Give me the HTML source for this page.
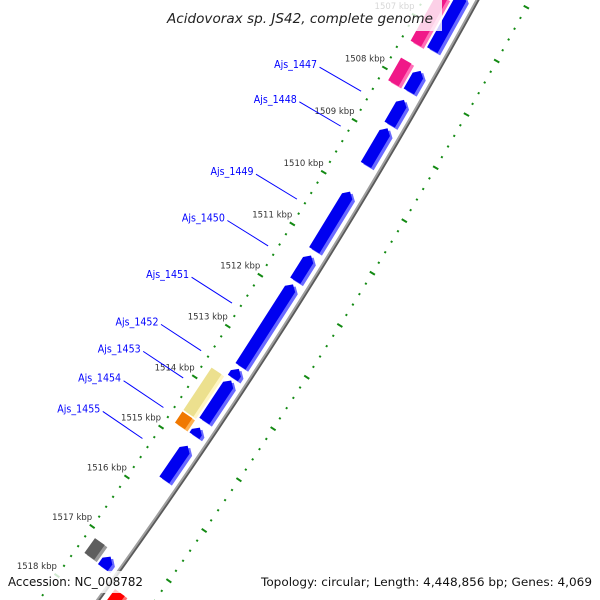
<!DOCTYPE html>
<html><head><meta charset="utf-8"><style>
html,body{margin:0;padding:0;background:#fff;width:600px;height:600px;overflow:hidden;}
svg{display:block;}
text{font-family:"DejaVu Sans","Liberation Sans",sans-serif;}
</style></head><body>
<svg id="map" width="600" height="600" viewBox="0 0 600 600" xmlns="http://www.w3.org/2000/svg">
<g id="rulers"></g>
<g id="backbone"></g>
<g id="features"></g>
<g id="labels"></g>
<rect x="160" y="0" width="282" height="31" fill="#fff" fill-opacity="0.8"/>
<text x="300" y="23" text-anchor="middle" font-size="13" font-style="italic" fill="#222" textLength="266" lengthAdjust="spacingAndGlyphs">Acidovorax sp. JS42, complete genome</text>
<rect x="0" y="571" width="150" height="22" fill="#fff" fill-opacity="0.8"/>
<text x="8" y="586" font-size="12" fill="#111" textLength="135" lengthAdjust="spacingAndGlyphs">Accession: NC_008782</text>
<text x="592" y="586" text-anchor="end" font-size="11.5" fill="#111" textLength="331" lengthAdjust="spacingAndGlyphs">Topology: circular; Length: 4,448,856 bp; Genes: 4,069</text>
</svg>
<script>
// ---- data ----
const featStart = [1506.3,1506.5,1507.75,1507.72,1508.30,1508.84,1510.05,1511.28,1511.84,1513.49,1513.72,1513.72,1514.59,1514.65,1515.01,1517.13,1517.23,1517.62];
const featEnd   = [1507.36,1507.40,1508.14,1508.15,1508.77,1509.54,1511.18,1511.77,1513.44,1513.67,1514.52,1514.56,1514.81,1514.81,1515.69,1517.43,1517.45,1518.5];
const featTrack = ["rev","other","rev","other","rev","rev","rev","rev","rev","rev","rev","other","other","rev","rev","other","rev","fwd"];
const featColor = ["blue","pink","blue","pink","blue","blue","blue","blue","blue","blue","blue","yellow","orange","blue","blue","gray","blue","red"];
const featArrow = ["rev","none","rev","none","rev","rev","rev","rev","rev","rev","rev","none","none","rev","rev","none","rev","fwd"];
const geneNames = ["Ajs_1447","Ajs_1448","Ajs_1449","Ajs_1450","Ajs_1451","Ajs_1452","Ajs_1453","Ajs_1454","Ajs_1455"];
const geneLabelK = [1508.53,1509.20,1510.61,1511.52,1512.64,1513.58,1514.12,1514.71,1515.33];
const tickLabelsK = [1507,1508,1509,1510,1511,1512,1513,1514,1515,1516,1517,1518];
const rulerRange = [1506,1519];

// ---- geometry ----
const CX=-4451, CY=-2696, R0=5570, K0=1508, PHI0=29.75, DPK=0.622;
function pt(k,off){const a=(PHI0+(k-K0)*DPK)*Math.PI/180;const r=R0+off;return [CX+r*Math.cos(a),CY+r*Math.sin(a)];}
const TRACK={other:15,rev:32.5,fwd:61};
const COL={blue:["#0000f0","#6a6aff"],pink:["#f01888","#ff70b8"],yellow:["#ece08e","#fff6c4"],orange:["#f07800","#ffb050"],gray:["#5e5e5e","#9a9a9a"],red:["#ff0000","#ff7070"]};
const NS="http://www.w3.org/2000/svg";
function mk(tag,attrs,parent){const e=document.createElementNS(NS,tag);for(const k in attrs)e.setAttribute(k,attrs[k]);parent.appendChild(e);return e;}

// rulers
const rul=document.getElementById('rulers');
[0,94].forEach(function(off,ri){
  for(let i=Math.round(rulerRange[0]*5);i<=Math.round(rulerRange[1]*5);i++){
    const k=i/5; const major=(i%5===0);
    const a=pt(k,off+(major?-3:-1)), b=pt(k,off+(major?3:1));
    const l=mk('line',{x1:a[0].toFixed(2),y1:a[1].toFixed(2),x2:b[0].toFixed(2),y2:b[1].toFixed(2),stroke:'#138a13','stroke-width':2},rul);
    
    
  }
});
tickLabelsK.forEach(function(k){
  const p=pt(k,0);
  const t=mk('text',{x:p[0].toFixed(1),y:(p[1]-6.5).toFixed(1),'text-anchor':'end','font-size':'8.5',fill:'#333'},rul);
  t.textContent=k+' kbp';
  
  
});

// backbone
const bb=document.getElementById('backbone');
function arcPath(off,k1,k2){let d='';for(let k=k1;k<=k2+1e-9;k+=0.25){const p=pt(k,off);d+=(d?'L':'M')+p[0].toFixed(2)+','+p[1].toFixed(2);}return d;}
const bs=mk('path',{d:arcPath(48.5,1505,1520),stroke:'#5a5a5a','stroke-width':2.2,fill:'none'},bb);


const bl=mk('path',{d:arcPath(46.8,1505,1520),stroke:'#a0a0a0','stroke-width':2,fill:'none'},bb);



// features
const fg=document.getElementById('features');
function featPoly(k1,k2,off,arrow,dx,dy){
  const h=6, hl=0.09; let P=[];
  if(arrow==='rev'){P=[pt(k1,off),pt(k1+hl,off-h),pt(k2,off-h),pt(k2,off+h),pt(k1+hl,off+h)];}
  else if(arrow==='fwd'){P=[pt(k1,off-h),pt(k2-hl,off-h),pt(k2,off),pt(k2-hl,off+h),pt(k1,off+h)];}
  else {P=[pt(k1,off-h),pt(k2,off-h),pt(k2,off+h),pt(k1,off+h)];}
  return P.map(p=>(p[0]+dx).toFixed(2)+','+(p[1]+dy).toFixed(2)).join(' ');
}
for(let i=0;i<featStart.length;i++){
  const off=TRACK[featTrack[i]], c=COL[featColor[i]];
  const g=mk('g',{},fg);
  
  
  const s=mk('polygon',{points:featPoly(featStart[i],featEnd[i],off,featArrow[i],2.6,2.2),fill:c[1]},g);
  
  
  const m=mk('polygon',{points:featPoly(featStart[i],featEnd[i],off,featArrow[i],0,0),fill:c[0]},g);
  
  
}

// gene labels
const lg=document.getElementById('labels');
for(let i=0;i<geneNames.length;i++){
  const a=pt(geneLabelK[i],-9), b=pt(geneLabelK[i],-57);
  const l=mk('line',{x1:a[0].toFixed(2),y1:a[1].toFixed(2),x2:b[0].toFixed(2),y2:b[1].toFixed(2),stroke:'#0000ff','stroke-width':1},lg);
  
  
  const t=mk('text',{x:(b[0]-2.5).toFixed(1),y:(b[1]+1).toFixed(1),'text-anchor':'end','font-size':'10.5',fill:'#0000ff',textLength:'43',lengthAdjust:'spacingAndGlyphs'},lg);
  t.textContent=geneNames[i];
  
  
}
</script>
</body></html>
